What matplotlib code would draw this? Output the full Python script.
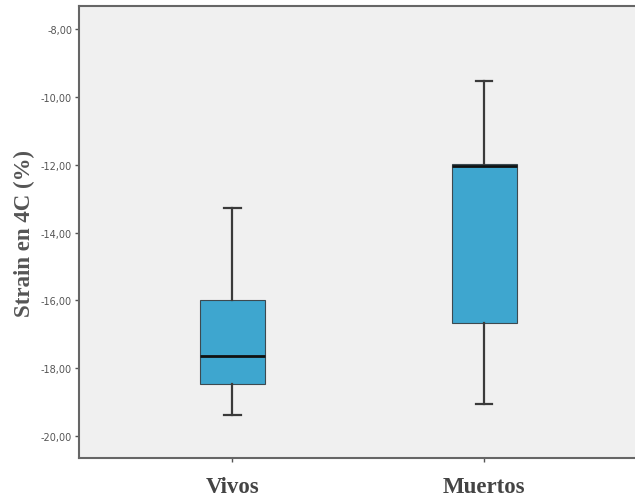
import matplotlib
matplotlib.use('Agg')
from matplotlib import pyplot as plt

# box statistics
groups = ['Vivos', 'Muertos']
medians = [-17.65, -12.05]
q1 = [-18.46, -16.68]
q3 = [-16.0, -11.97]
whisker_low = [-19.37, -19.05]
whisker_high = [-13.29, -9.52]
yticks = [-8, -10, -12, -14, -16, -18, -20]

BOX_COLOR = '#3ea6cf'
BG = '#f0f0f0'

stats = []
for i in range(len(groups)):
    stats.append({'label': groups[i], 'med': medians[i], 'q1': q1[i], 'q3': q3[i],
                  'whislo': whisker_low[i], 'whishi': whisker_high[i], 'fliers': []})

fig = plt.figure(figsize=(6.35, 5.02), dpi=100)
ax = fig.add_axes([0.1244, 0.0857, 0.8756, 0.9003])
ax.set_facecolor(BG)

ax.bxp(stats, positions=[1, 2], widths=0.258, patch_artist=True, showfliers=False,
       boxprops=dict(facecolor=BOX_COLOR, edgecolor='#3d4a50', linewidth=0.8),
       medianprops=dict(color='#111111', linewidth=2),
       whiskerprops=dict(color='#3a3a3a', linewidth=1.6),
       capprops=dict(color='#3a3a3a', linewidth=1.6),
       capwidths=0.064)

ax.set_xlim(0.39, 2.6)
ax.set_ylim(-20.65, -7.32)
ax.set_yticks(yticks)
ax.set_yticklabels([('%.2f' % v).replace('.', ',') for v in yticks])
ax.tick_params(axis='y', labelsize=7, colors='#555555', length=3, width=1, pad=2)
ax.tick_params(axis='x', length=3, width=1, colors='#555555', pad=10)
for lab in ax.get_xticklabels():
    lab.set_fontfamily('Liberation Serif')
    lab.set_fontweight('bold')
    lab.set_fontsize(16.5)
    lab.set_color('#444444')

ax.set_ylabel('Strain en 4C (%)', fontfamily='Liberation Serif', fontweight='bold',
              fontsize=16.5, color='#555555', labelpad=4)

for side in ['left', 'top', 'bottom']:
    ax.spines[side].set_color('#666666')
    ax.spines[side].set_linewidth(1.5)
ax.spines['right'].set_visible(False)

plt.savefig('out.png', dpi=100)
